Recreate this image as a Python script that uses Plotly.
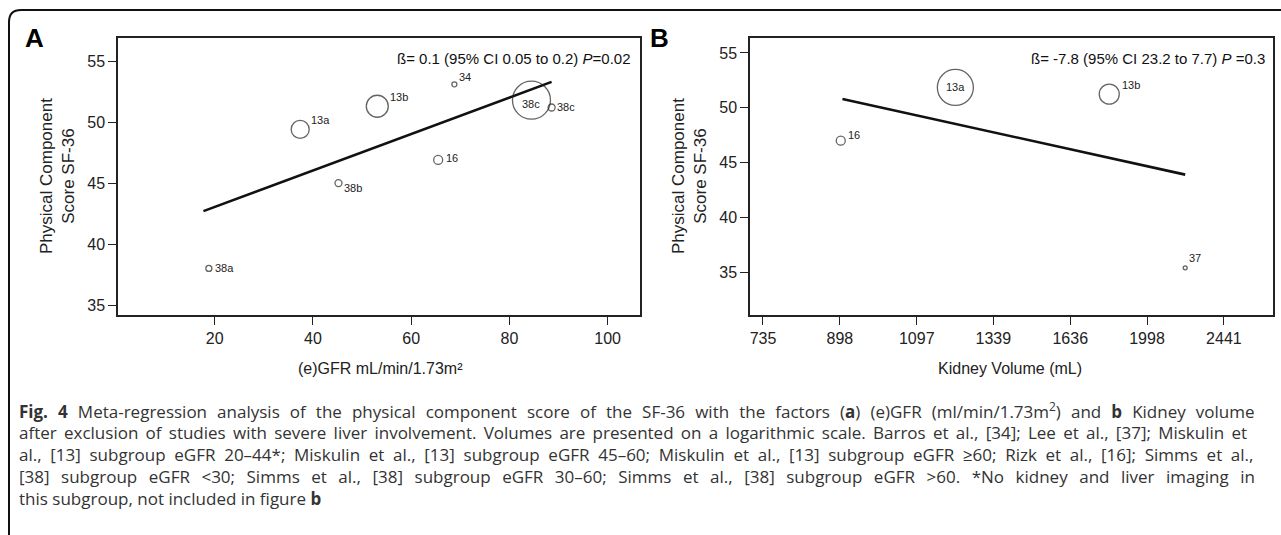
import math
import plotly.graph_objects as go

W, H = 1281, 535

# ---------------- data ----------------
# Panel A: (e)GFR vs physical component score
a_labels = ["38a", "13a", "13b", "34", "38c", "38c", "16", "38b"]
a_gfr = [18.8, 37.4, 53.1, 68.8, 84.5, 88.6, 65.5, 45.2]
a_pcs = [38.0, 49.4, 51.3, 53.1, 51.8, 51.2, 46.9, 45.0]
a_weight = [6, 18, 22, 5, 38, 7, 9, 7]
a_fit_x = [17.7, 88.6]
a_fit_y = [42.7, 53.3]

# Panel B: kidney volume vs physical component score
b_labels = ["16", "13a", "13b", "37"]
b_vol = [900, 1213, 1811, 2207]
b_pcs = [47.0, 51.85, 51.24, 35.4]
b_weight = [9, 36, 20, 4]
b_fit_x = [904, 2207]
b_fit_y = [50.8, 43.9]

y_ticks = [35, 40, 45, 50, 55]
a_x_ticks = [20, 40, 60, 80, 100]
b_x_ticks = [735, 898, 1097, 1339, 1636, 1998, 2441]

# label placement (style): (xshift beyond marker edge, yshift, xanchor)
a_lab_pos = [(1, 0, "left"), (0, 9, "left"), (0, 9, "left"), (0, 7, "left"),
             (0, -4, "center"), (0, 0, "left"), (1, 2, "left"), (0, -5, "left")]
b_lab_pos = [(1, 6, "left"), (0, 0, "center"), (1, 9, "left"), (0, 10, "left")]

FONT = "Liberation Sans, Arial, sans-serif"


def px(x):
    return x / W


def py(y):
    return 1 - y / H


fig = go.Figure()

# Panel A
fig.add_trace(go.Scatter(x=a_fit_x, y=a_fit_y, mode="lines",
                         line=dict(color="#111", width=2.6),
                         xaxis="x", yaxis="y", showlegend=False))
fig.add_trace(go.Scatter(x=a_gfr, y=a_pcs, mode="markers",
                         marker=dict(symbol="circle-open", size=a_weight,
                                     color="#222", line=dict(width=1.3)),
                         xaxis="x", yaxis="y", showlegend=False))
# Panel B
fig.add_trace(go.Scatter(x=b_fit_x, y=b_fit_y, mode="lines",
                         line=dict(color="#111", width=2.6),
                         xaxis="x2", yaxis="y2", showlegend=False))
fig.add_trace(go.Scatter(x=b_vol, y=b_pcs, mode="markers",
                         marker=dict(symbol="circle-open", size=b_weight,
                                     color="#222", line=dict(width=1.3)),
                         xaxis="x2", yaxis="y2", showlegend=False))

annos = []
for lab, x, y, (dx, dy, anc), s in zip(a_labels, a_gfr, a_pcs, a_lab_pos, a_weight):
    annos.append(dict(x=x, y=y, xref="x", yref="y", text=lab, showarrow=False,
                      xanchor=anc, yanchor="middle",
                      xshift=dx + (s / 2 if anc == "left" else 0), yshift=dy,
                      font=dict(family=FONT, size=11, color="#222")))
for lab, x, y, (dx, dy, anc), s in zip(b_labels, b_vol, b_pcs, b_lab_pos, b_weight):
    annos.append(dict(x=math.log10(x), y=y, xref="x2", yref="y2", text=lab, showarrow=False,
                      xanchor=anc, yanchor="middle",
                      xshift=dx + (s / 2 if anc == "left" else 0), yshift=dy,
                      font=dict(family=FONT, size=11, color="#222")))

# stats text
annos.append(dict(x=px(633), y=py(59), xref="paper", yref="paper",
                  text="ß= 0.1 (95% CI 0.05 to 0.2) <i>P</i>=0.02", showarrow=False,
                  xanchor="right", yanchor="middle",
                  font=dict(family=FONT, size=15, color="#111")))
annos.append(dict(x=px(1267), y=py(59), xref="paper", yref="paper",
                  text="ß= -7.8 (95% CI 23.2 to 7.7) <i>P</i> =0.3", showarrow=False,
                  xanchor="right", yanchor="middle",
                  font=dict(family=FONT, size=15, color="#111")))
# panel letters
annos.append(dict(x=px(23), y=py(38), xref="paper", yref="paper", text="<b>A</b>",
                  showarrow=False, xanchor="left", yanchor="middle",
                  font=dict(family="Liberation Sans, Arial, sans-serif", size=26, color="#000")))
annos.append(dict(x=px(648), y=py(38), xref="paper", yref="paper", text="<b>B</b>",
                  showarrow=False, xanchor="left", yanchor="middle",
                  font=dict(family="Liberation Sans, Arial, sans-serif", size=26, color="#000")))
# y axis titles
for xc in (58, 690):
    annos.append(dict(x=px(xc), y=py(176), xref="paper", yref="paper",
                      text="Physical Component<br>Score SF-36", showarrow=False,
                      textangle=-90, xanchor="center", yanchor="middle",
                      font=dict(family="Liberation Sans, Arial, sans-serif", size=17, color="#222")))
# x axis titles
annos.append(dict(x=px(380), y=py(368), xref="paper", yref="paper",
                  text="(e)GFR mL/min/1.73m²", showarrow=False,
                  xanchor="center", yanchor="middle",
                  font=dict(family=FONT, size=16, color="#222")))
annos.append(dict(x=px(1010), y=py(368), xref="paper", yref="paper",
                  text="Kidney Volume (mL)", showarrow=False,
                  xanchor="center", yanchor="middle",
                  font=dict(family=FONT, size=16, color="#222")))

# caption (lines 1-4 justified in the original: widen word gaps)
caption = [
    "<b>Fig. 4</b> Meta-regression analysis of the physical component score of the SF-36 with the factors (<b>a</b>) (e)GFR (ml/min/1.73m<sup>2</sup>) and <b>b</b> Kidney volume",
    "after exclusion of studies with severe liver involvement. Volumes are presented on a logarithmic scale. Barros et al., [34]; Lee et al., [37]; Miskulin et",
    "al., [13] subgroup eGFR 20–44*; Miskulin et al., [13] subgroup eGFR 45–60; Miskulin et al., [13] subgroup eGFR ≥60; Rizk et al., [16]; Simms et al.,",
    "[38] subgroup eGFR &lt;30; Simms et al., [38] subgroup eGFR 30–60; Simms et al., [38] subgroup eGFR &gt;60. *No kidney and liver imaging in",
    "this subgroup, not included in figure <b>b</b>",
]
gap_fill = ["\u2004", "\u2006", "\u2005", "\u2005\u2006", ""]


def widen(line, fill):
    if not fill:
        return line
    # only widen gaps between words, not spaces inside html tags
    out, in_tag = [], False
    for ch in line:
        if ch == "<":
            in_tag = True
        elif ch == ">":
            in_tag = False
        if ch == " " and not in_tag:
            out.append(" " + fill)
        else:
            out.append(ch)
    return "".join(out)


for i, line in enumerate(caption):
    annos.append(dict(x=px(17), y=py(410 + i * 22.1), xref="paper", yref="paper",
                      text=widen(line, gap_fill[i]), showarrow=False,
                      xanchor="left", yanchor="middle",
                      font=dict(family="Open Sans, Noto Sans, sans-serif", size=17, color="#333")))

# outer frame with rounded corner
shapes = [dict(type="path", xref="paper", yref="paper",
               path=f"M {px(9)},{py(540)} L {px(9)},{py(22)} Q {px(9)},{py(10)} {px(21)},{py(10)} L {px(1285)},{py(10)}",
               line=dict(color="#111", width=2))]

axis_common = dict(showline=True, linecolor="#222", linewidth=1.5, mirror=True,
                   ticks="outside", ticklen=8, tickwidth=1.2, tickcolor="#222",
                   showgrid=False, zeroline=False,
                   tickfont=dict(family=FONT, size=16, color="#222"))

fig.update_layout(
    width=W, height=H,
    margin=dict(l=0, r=0, t=0, b=0),
    paper_bgcolor="white", plot_bgcolor="white",
    showlegend=False,
    xaxis=dict(domain=[px(118), px(640)], range=[0.3, 106.6], anchor="y",
               tickvals=a_x_ticks, ticktext=[str(t) for t in a_x_ticks], **axis_common),
    yaxis=dict(domain=[py(315), py(38)], range=[34.18, 56.9], anchor="x",
               tickvals=y_ticks, **axis_common),
    xaxis2=dict(domain=[px(750), px(1273)], type="log", range=[2.8516, 3.4431], anchor="y2",
                tickvals=b_x_ticks, ticktext=[str(t) for t in b_x_ticks], **axis_common),
    yaxis2=dict(domain=[py(315), py(38)], range=[31.1, 56.36], anchor="x2",
                tickvals=y_ticks, **axis_common),
    annotations=annos,
    shapes=shapes,
)

fig.write_html("out.html")
